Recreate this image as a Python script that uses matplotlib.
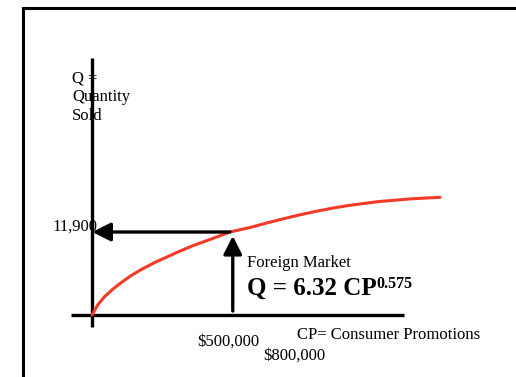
import matplotlib.pyplot as plt
from matplotlib.lines import Line2D

# Hand-drawn response curve (promotion spend in $, quantity sold)
cp_spend = [0, 21700, 46000, 76100, 106200, 142400, 178600, 227200, 275400,
            306900, 367000, 427500, 500000, 572500, 633000, 693100, 753600,
            814100, 874300, 934800, 1037300, 1158300, 1260900]
qty_sold = [0, 1505, 2652, 3728, 4660, 5663, 6523, 7527, 8387,
            8961, 9964, 10825, 11900, 12545, 13190, 13792, 14366,
            14882, 15341, 15728, 16258, 16660, 16875]

spend_point = 500000
qty_point = 11900
tick_labels = ["$500,000", "$800,000"]
equation = "Q = 6.32 CP"
exponent = "0.575"

plt.rcParams['font.family'] = ['Liberation Serif', 'DejaVu Serif']

fig = plt.figure(figsize=(5.16, 3.77), dpi=100)
ax = fig.add_axes([0, 0, 1, 1])
ax.set_xlim(-333333, 1536232)
ax.set_ylim(-8889, 45163)
ax.axis('off')

# slide frame (left and top edges only visible)
fig.add_artist(Line2D([0.044, 0.044], [0, 0.979], color='black', lw=2.2,
                      transform=fig.transFigure, solid_capstyle='projecting'))
fig.add_artist(Line2D([0.044, 1.0], [0.979, 0.979], color='black', lw=2.2,
                      transform=fig.transFigure, solid_capstyle='projecting'))

# axes drawn as plain thick lines
ax.plot([0, 0], [-1720, 36846], color='black', lw=2.4, solid_capstyle='butt')
ax.plot([-76090, 1130400], [0, 0], color='black', lw=2.4, solid_capstyle='butt')

# the response curve
ax.plot(cp_spend, qty_sold, color='#f23a28', lw=2.2,
        solid_capstyle='round', solid_joinstyle='round')

# arrows: up from the spend level, then across to the quantity axis
arrow_kw = dict(arrowstyle='-|>,head_length=0.55,head_width=0.28', color='black',
                lw=2.4, shrinkA=0, shrinkB=0, mutation_scale=20)
ax.annotate('', xy=(510000, 11330), xytext=(510000, 573), arrowprops=arrow_kw)
ax.annotate('', xy=(1500, qty_point), xytext=(spend_point, qty_point), arrowprops=arrow_kw)

fs = 12
ax.text(-72464, 33405, "Q =", fontsize=fs, va='baseline')
ax.text(-72464, 30681, "Quantity", fontsize=fs, va='baseline')
ax.text(-72464, 27957, "Sold", fontsize=fs, va='baseline')
ax.text(-144928, qty_point + 143, f"{qty_point:,}", fontsize=fs, va='baseline')

ax.text(561600, 6882, "Foreign Market", fontsize=fs, va='baseline')
eq = ax.text(561600, 2867, equation, fontsize=18, fontweight='bold', va='baseline')
ax.annotate(exponent, xy=(1.0, 1.0), xycoords=eq, xytext=(0, 0.5),
            textcoords='offset points', fontsize=11.5, fontweight='bold',
            ha='left', va='top')

ax.text(742756, -3441, "CP= Consumer Promotions", fontsize=fs, va='baseline')
ax.text(380436, -4444, tick_labels[0], fontsize=fs, va='baseline')
ax.text(619567, -6452, tick_labels[1], fontsize=fs, va='baseline')

fig.savefig('out.png', dpi=100)
